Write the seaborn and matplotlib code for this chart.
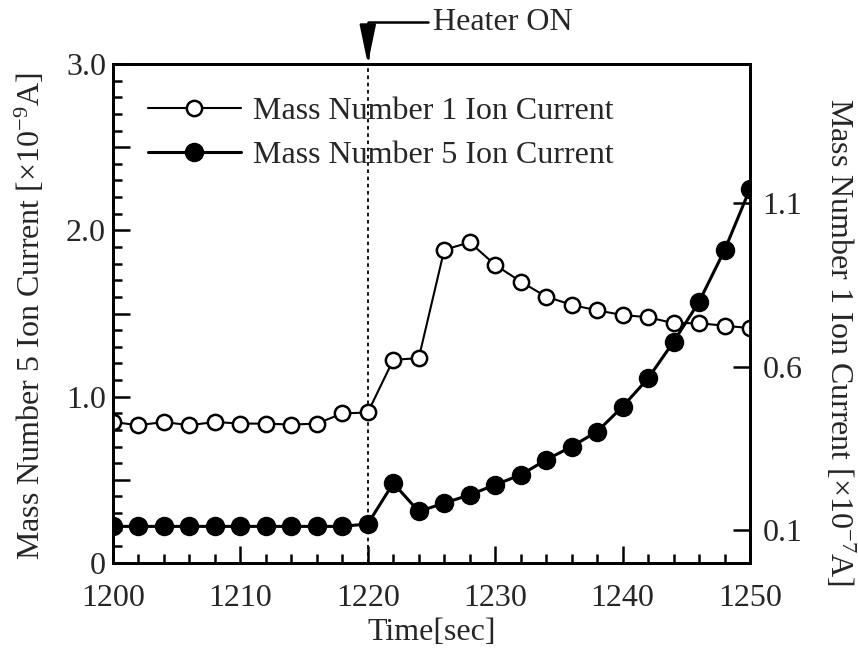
import matplotlib
matplotlib.use("Agg")
import matplotlib.pyplot as plt
import seaborn as sns
import pandas as pd
from matplotlib.ticker import FixedLocator, FuncFormatter
from matplotlib.lines import Line2D

# ---------------- data ----------------
time_sec = [1200, 1202, 1204, 1206, 1208, 1210, 1212, 1214, 1216, 1218, 1220,
            1222, 1224, 1226, 1228, 1230, 1232, 1234, 1236, 1238, 1240,
            1242, 1244, 1246, 1248, 1250]
# Mass Number 5 ion current [x1e-9 A] (left axis, filled circles)
mass5_current = [0.22, 0.22, 0.22, 0.22, 0.22, 0.22, 0.22, 0.22, 0.22, 0.22, 0.235,
                 0.48, 0.31, 0.36, 0.41, 0.47, 0.53, 0.62, 0.70, 0.79, 0.94,
                 1.11, 1.33, 1.57, 1.88, 2.25]
# Mass Number 1 ion current [x1e-7 A] (right axis, open circles)
mass1_current = [0.431, 0.421, 0.431, 0.421, 0.431, 0.426, 0.426, 0.423, 0.426, 0.457, 0.460,
                 0.621, 0.626, 0.957, 0.980, 0.911, 0.860, 0.814, 0.789, 0.772, 0.758,
                 0.751, 0.733, 0.733, 0.725, 0.718]
left_ticks = [0, 0.5, 1.0, 1.5, 2.0, 2.5, 3.0]
left_minor = [0.1, 0.2, 0.3, 0.4, 0.6, 0.7, 0.8, 0.9, 1.1, 1.2, 1.3, 1.4,
              1.6, 1.7, 1.8, 1.9, 2.1, 2.2, 2.3, 2.4, 2.6, 2.7, 2.8, 2.9]
left_labels = {0: "0", 1.0: "1.0", 2.0: "2.0", 3.0: "3.0"}
right_ticks = [0.1, 0.6, 1.1]
right_labels = ["0.1", "0.6", "1.1"]
x_ticks = [1200, 1210, 1220, 1230, 1240, 1250]
x_minor = [t for t in time_sec if t % 10 != 0]
heater_on_time = 1220
label_m1 = "Mass Number 1 Ion Current"
label_m5 = "Mass Number 5 Ion Current"

df = pd.DataFrame({"t": time_sec, "m5": mass5_current, "m1": mass1_current})

# ---------------- style ----------------
sns.set_theme(style="ticks")
FONT = "Liberation Serif"
plt.rcParams["font.family"] = [FONT, "DejaVu Serif"]
plt.rcParams["mathtext.fontset"] = "custom"
plt.rcParams["mathtext.rm"] = FONT
plt.rcParams["mathtext.it"] = FONT
FS = 23

fig = plt.figure(figsize=(8.58, 6.48), dpi=100)
fig.subplots_adjust(left=113/858, right=750/858, bottom=1-563/648, top=1-64/648)
ax = fig.add_subplot(111)
ax2 = ax.twinx()

sns.lineplot(data=df, x="t", y="m5", ax=ax, color="black", linewidth=2.2,
             marker="o", markersize=13, markerfacecolor="black",
             markeredgecolor="black", markeredgewidth=1.0, legend=False)
sns.lineplot(data=df, x="t", y="m1", ax=ax2, color="black", linewidth=1.5,
             marker="o", markersize=11, markerfacecolor="white",
             markeredgecolor="black", markeredgewidth=1.8, legend=False)

ax.axvline(heater_on_time, color="black", linestyle=(0, (2, 2)), linewidth=1.3, zorder=1)

ax.set_xlim(1200, 1250)
ax.set_ylim(0, 3.0)
ax2.set_ylim(0, 1.525)

ax.xaxis.set_major_locator(FixedLocator(x_ticks))
ax.xaxis.set_minor_locator(FixedLocator(x_minor))
ax.yaxis.set_major_locator(FixedLocator(left_ticks))
ax.yaxis.set_minor_locator(FixedLocator(left_minor))
ax.yaxis.set_major_formatter(FuncFormatter(lambda v, p: left_labels.get(round(v, 1), "")))
ax2.yaxis.set_major_locator(FixedLocator(right_ticks))
ax2.set_yticklabels(right_labels)
ax2.yaxis.set_minor_locator(FixedLocator([]))

for a in (ax, ax2):
    for s in a.spines.values():
        s.set_visible(True)
        s.set_linewidth(2.0)
        s.set_color("black")

ax.xaxis.set_tick_params(which="major", direction="in", length=12, width=1.8,
                         labelsize=FS, pad=15, color="black", bottom=True, top=False)
ax.xaxis.set_tick_params(which="minor", direction="in", length=6.5, width=1.8,
                         color="black", bottom=True, top=False)
ax.yaxis.set_tick_params(which="major", direction="in", length=12, width=1.8,
                         labelsize=FS, pad=5, color="black", left=True, right=False)
ax.yaxis.set_tick_params(which="minor", direction="in", length=6.5, width=1.8,
                         color="black", left=True, right=False)
ax2.yaxis.set_tick_params(which="major", direction="in", length=12, width=1.8,
                          labelsize=FS, pad=9, color="black", right=True, left=False)
ax2.yaxis.set_tick_params(which="minor", length=0)

ax.set_xlabel("Time[sec]", fontsize=FS, labelpad=4)
ax.set_ylabel("")
ax2.set_ylabel("")
fig.text(30/858, 1-316/648, "Mass Number 5 Ion Current [×10$^{-9}$A]",
         rotation=90, ha="center", va="center", fontsize=FS)
fig.text(840/858, 1-342/648, "Mass Number 1 Ion Current [×10$^{-7}$A]",
         rotation=-90, ha="center", va="center", fontsize=FS)

handles = [
    Line2D([], [], color="black", linewidth=1.5, marker="o", markersize=11,
           markerfacecolor="white", markeredgecolor="black", markeredgewidth=1.8),
    Line2D([], [], color="black", linewidth=2.2, marker="o", markersize=13,
           markerfacecolor="black", markeredgecolor="black"),
]
leg = ax2.legend(handles, [label_m1, label_m5], loc="upper left",
                 bbox_to_anchor=((148-113)/637, (563-97)/499), frameon=False,
                 fontsize=FS, handlelength=2.9, handletextpad=0.4,
                 labelspacing=0.45, borderpad=0, borderaxespad=0)

ax2.annotate("Heater ON", xy=(heater_on_time, 1.525), xycoords="data",
             xytext=(433/858, 1-22/648), textcoords="figure fraction",
             ha="left", va="center", fontsize=FS, annotation_clip=False,
             arrowprops=dict(arrowstyle="-|>,head_length=1.2,head_width=0.25",
                             connectionstyle="angle,angleA=0,angleB=90,rad=0",
                             color="black", linewidth=1.8, mutation_scale=20,
                             shrinkA=1, shrinkB=0))

fig.savefig("out.png", dpi=100)
